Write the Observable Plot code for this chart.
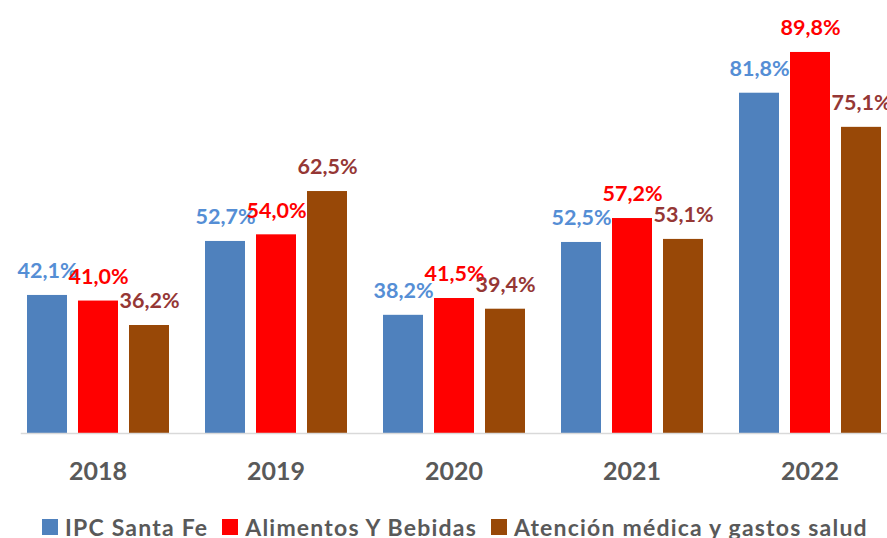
<!DOCTYPE html>
<html>
<head>
<meta charset="utf-8">
<script src="https://cdn.jsdelivr.net/npm/d3@7"></script>
<script src="https://cdn.jsdelivr.net/npm/@observablehq/plot@0.6"></script>
<style>
  html, body { margin: 0; padding: 0; background: #fff; overflow: hidden; }
  #chart { position: relative; width: 887px; height: 538px; }
  #legend { position: absolute; left: 0; top: 513px; height: 28px; display: flex; align-items: center; padding-left: 42px;
    font-family: Lato, "Open Sans", sans-serif; font-weight: bold; font-size: 23px; letter-spacing: 1.2px; color: #595959; white-space: nowrap; }
  #legend .item { display: flex; align-items: center; margin-right: 14px; }
  #legend .sw { width: 16px; height: 16px; margin-right: 7px; }
</style>
</head>
<body>
<div id="chart"></div>
<script>
const years = ["2018", "2019", "2020", "2021", "2022"];
const seriesNames = ["IPC Santa Fe", "Alimentos Y Bebidas", "Atención médica y gastos salud"];
const ipc = [42.1, 52.7, 38.2, 52.5, 81.8];
const alimentos = [41.0, 54.0, 41.5, 57.2, 89.8];
const salud = [36.2, 62.5, 39.4, 53.1, 75.1];
const barColors = ["#4F81BD", "#FF0000", "#984807"];
const labelColors = ["#558ED5", "#FF0000", "#953735"];

const seriesValues = [ipc, alimentos, salud];
const data = [];
years.forEach((y, i) => {
  seriesNames.forEach((s, j) => {
    data.push({ year: y, series: s, value: seriesValues[j][i] });
  });
});

const fmt = v => v.toFixed(1).replace(".", ",") + "%";
const base = 15;

const plot = Plot.plot({
  width: 887,
  height: 495,
  marginTop: 0,
  marginBottom: 62,
  marginLeft: 8,
  marginRight: 0,
  style: { fontFamily: "Lato, 'Open Sans', sans-serif", color: "#595959", background: "#fff", overflow: "visible" },
  fx: { domain: years, range: [7.25, 899.75], paddingInner: 0.1429, paddingOuter: 0.0714, label: null },
  x: { domain: seriesNames, axis: null, paddingInner: 0.2157, paddingOuter: 0.1078 },
  y: { domain: [base, 100], axis: null },
  color: { domain: seriesNames, range: barColors },
  marks: [
    Plot.barY(data, { fx: "year", x: "series", y1: () => base, y2: "value", fill: "series" }),
    Plot.frame({ anchor: "bottom", stroke: "#D9D9D9", strokeWidth: 1.5, facet: "super" }),
    Plot.text(data, {
      fx: "year", x: "series", y: "value", text: d => fmt(d.value),
      fill: d => labelColors[seriesNames.indexOf(d.series)],
      dy: -24, fontSize: 21.5, fontWeight: "bold"
    }),
    Plot.axisFx({ anchor: "bottom", tickSize: 0, tickPadding: 29, fontSize: 25, fontWeight: "bold", label: null })
  ]
});
document.getElementById("chart").appendChild(plot);

const legend = document.createElement("div");
legend.id = "legend";
seriesNames.forEach((s, i) => {
  const item = document.createElement("div");
  item.className = "item";
  const sw = document.createElement("div");
  sw.className = "sw";
  sw.style.background = barColors[i];
  const t = document.createElement("span");
  t.textContent = s;
  item.appendChild(sw);
  item.appendChild(t);
  legend.appendChild(item);
});
document.getElementById("chart").appendChild(legend);
</script>
</body>
</html>
